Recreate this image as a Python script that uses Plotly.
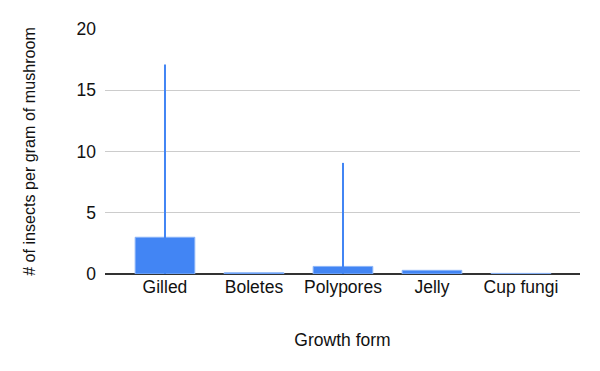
import plotly.graph_objects as go

categories = ["Gilled", "Boletes", "Polypores", "Jelly", "Cup fungi"]
means = [3.0, 0.1, 0.62, 0.3, 0.05]
errors = [14.1, 0.0, 8.45, 0.0, 0.0]

fig = go.Figure()
fig.add_trace(go.Bar(
    x=list(range(len(categories))),
    y=means,
    width=0.67,
    marker=dict(color="#4285f4", line=dict(color="#8ab4f8", width=1)),
    error_y=dict(type="data", array=errors, symmetric=True, color="#4285f4",
                 thickness=2, width=0, visible=True),
))

fig.update_layout(
    width=600, height=371,
    margin=dict(l=97, r=28, t=21, b=105, autoexpand=False),
    paper_bgcolor="white", plot_bgcolor="white",
    font=dict(family="Liberation Sans, Arial, sans-serif", size=17, color="#111"),
    showlegend=False,
    xaxis=dict(
        tickmode="array", tickvals=list(range(len(categories))), ticktext=categories,
        range=[-0.674, 4.663], showgrid=False, zeroline=False, ticks="",
        tickfont=dict(size=17.5, color="#111"),
        title=dict(text="Growth form", standoff=38, font=dict(size=17.5, color="#111")),
    ),
    yaxis=dict(
        range=[0, 20], tickvals=[0, 5, 10, 15, 20], gridcolor="#cccccc",
        zeroline=True, zerolinecolor="#333333", zerolinewidth=1.5,
        ticks="", ticklabelstandoff=8,
        tickfont=dict(size=17.5, color="#111"),
        title=dict(text="# of insects per gram of mushroom", standoff=36,
                   font=dict(size=16.1, color="#111")),
    ),
)

fig.write_html("out.html")
